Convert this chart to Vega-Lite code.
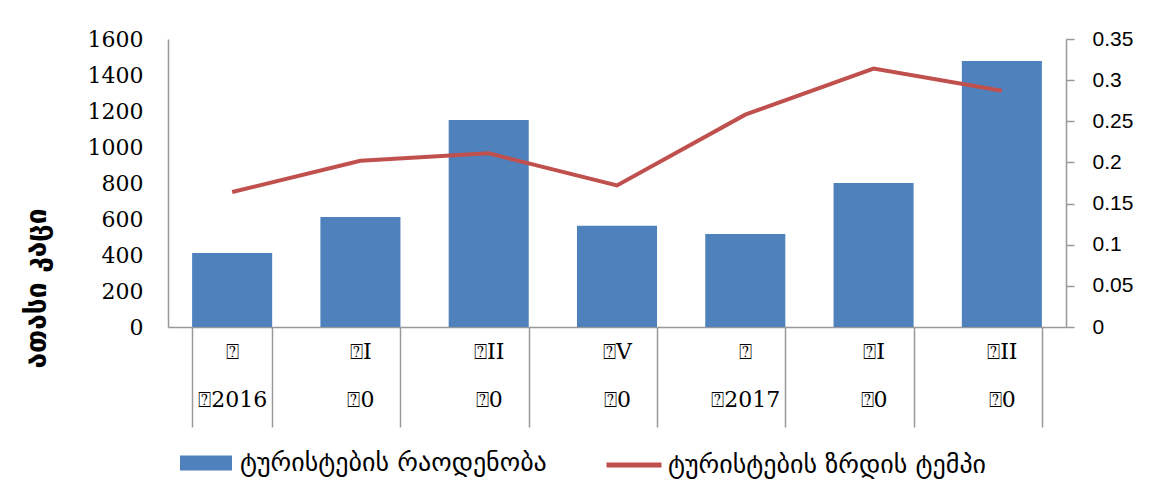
{
  "$schema": "https://vega.github.io/schema/vega-lite/v6.json",
  "width": 898,
  "height": 288,
  "autosize": {"type": "none"},
  "padding": {"left": 168, "top": 39, "right": 98, "bottom": 172},
  "background": "white",
  "config": {"view": {"stroke": null}, "axis": {"grid": false}},
  "data": {
    "values": [
      {"period": "I-2016", "tourists": 411, "growth": 0.164},
      {"period": "II-2016", "tourists": 611, "growth": 0.202},
      {"period": "III-2016", "tourists": 1150, "growth": 0.211},
      {"period": "IV-2016", "tourists": 562, "growth": 0.172},
      {"period": "I-2017", "tourists": 517, "growth": 0.258},
      {"period": "II-2017", "tourists": 800, "growth": 0.314},
      {"period": "III-2017", "tourists": 1478, "growth": 0.287}
    ]
  },
  "encoding": {
    "x": {
      "field": "period",
      "type": "nominal",
      "sort": null,
      "scale": {"paddingInner": 0.376, "paddingOuter": 0.188},
      "axis": {
        "title": null,
        "orient": "bottom",
        "domainColor": "#999999",
        "domainWidth": 1.5,
        "tickColor": "#999999",
        "tickWidth": 1.5,
        "tickSize": 100,
        "tickBand": "extent",
        "labelAngle": 0,
        "labelFont": "DejaVu Serif",
        "labelFontSize": 22,
        "labelColor": "#000000",
        "labelLineHeight": 48,
        "labelPadding": -86,
        "labelExpr": "datum.extra ? '' : ['⍰' + slice(split(datum.label, '-')[0], 1), split(datum.label, '-')[0] == 'I' ? '⍰' + split(datum.label, '-')[1] : '⍰0']"
      }
    }
  },
  "layer": [
    {
      "mark": {"type": "bar"},
      "encoding": {
        "y": {
          "field": "tourists",
          "type": "quantitative",
          "scale": {"domain": [0, 1600]},
          "axis": {
            "orient": "left",
            "values": [0, 200, 400, 600, 800, 1000, 1200, 1400, 1600],
            "format": "d",
            "ticks": false,
            "domainColor": "#999999",
            "domainWidth": 1.5,
            "labelFont": "DejaVu Serif",
            "labelFontSize": 22,
            "labelColor": "#000000",
            "labelPadding": 25,
            "title": "ათასი კაცი",
            "titleFont": "DejaVu Sans",
            "titleFontSize": 28,
            "titleFontWeight": "bold",
            "titleColor": "#000000",
            "titleX": -131,
            "titleY": 249,
            "titleAlign": "center",
            "titleBaseline": "middle"
          }
        },
        "fill": {
          "datum": "ტურისტების რაოდენობა",
          "type": "nominal",
          "scale": {"range": ["#4F81BD"]},
          "legend": {
            "orient": "none",
            "legendX": 12,
            "legendY": 398,
            "title": null,
            "padding": 0,
            "symbolType": "M-1,-0.29H1V0.29H-1Z",
            "symbolSize": 2704,
            "symbolStrokeWidth": 0,
            "labelOffset": 8,
            "labelFont": "DejaVu Sans",
            "labelFontSize": 26,
            "labelColor": "#000000",
            "labelLimit": 500
          }
        }
      }
    },
    {
      "mark": {"type": "line", "strokeWidth": 4},
      "encoding": {
        "y": {
          "field": "growth",
          "type": "quantitative",
          "scale": {"domain": [0, 0.35]},
          "axis": {
            "orient": "right",
            "values": [0, 0.05, 0.1, 0.15, 0.2, 0.25, 0.3, 0.35],
            "format": ".2~f",
            "tickSize": 8,
            "tickColor": "#999999",
            "tickWidth": 1.5,
            "domainColor": "#999999",
            "domainWidth": 1.5,
            "labelFont": "Liberation Sans",
            "labelFontSize": 21,
            "labelColor": "#000000",
            "labelPadding": 18,
            "title": null
          }
        },
        "stroke": {
          "datum": "ტურისტების ზრდის ტემპი",
          "type": "nominal",
          "scale": {"range": ["#C0504D"]},
          "legend": {
            "orient": "none",
            "legendX": 436,
            "legendY": 396,
            "title": null,
            "padding": 0,
            "symbolType": "stroke",
            "symbolSize": 3025,
            "symbolStrokeWidth": 5,
            "labelOffset": 4,
            "labelFont": "DejaVu Sans",
            "labelFontSize": 26,
            "labelColor": "#000000",
            "labelLimit": 500
          }
        }
      }
    }
  ],
  "resolve": {"scale": {"y": "independent", "fill": "independent", "stroke": "independent"}}
}
